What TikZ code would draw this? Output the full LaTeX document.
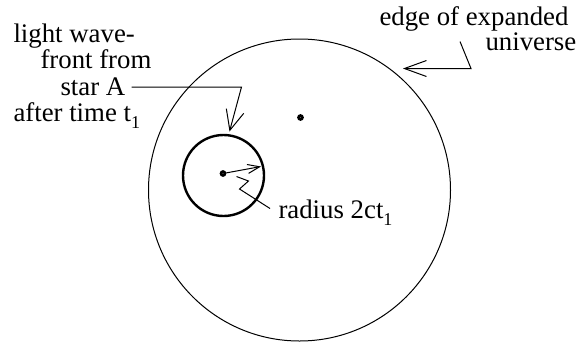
\documentclass[tikz,border=0pt]{standalone}
\usepackage{fontspec}
\setmainfont{Liberation Serif}
\usetikzlibrary{arrows.meta}
\newcommand{\tsub}[1]{\raisebox{-0.6ex}{\small #1}}
\tikzset{
  label text/.style={inner sep=0pt, anchor=base west, font=\rmfamily\fontsize{13.4}{16}\selectfont},
  open tip/.style args={#1/#2}{-{Straight Barb[length=#1, width=#2]}},
  star dot/.style={circle, draw, line width=1.3pt, minimum size=2pt, inner sep=0pt},
}
\begin{document}
\begin{tikzpicture}[x=0.5pt, y=-0.5pt, line width=0.5pt]
        \useasboundingbox (0,0) rectangle (578,343);

        % the universe and its centre
        \node (univ) [circle, draw, minimum size=151pt, inner sep=0pt] at (299.5,190) {};
        \node (centre) [star dot] at (300.5,117.5) {};

        % light from star A
        \node (front) [circle, draw, line width=1.2pt, minimum size=40.5pt, inner sep=0pt] at (223.5,175.5) {};
        \node (starA) [star dot] at (223,173.5) {};
        \coordinate (rtip) at (261,166.5);
        \draw [open tip=6pt/4.5pt] (starA) -- (rtip);

        % labels
        \node (l1) [label text] at (13,42.5) {light wave-};
        \node (l2) [label text] at (40,68.5) {front from};
        \node (l3) [label text] at (60,95) {star A};
        \node (l4) [label text] at (13,121.5) {after time t\tsub{1}};
        \node (rad) [label text] at (278,218.5) {radius 2ct\tsub{1}};
        \node (e1) [label text] at (379,25) {edge of expanded};
        \node (e2) [label text] at (485,50) {universe};

        % pointers
        \coordinate (wstart) at (131.5,87);
        \coordinate (wbend) at (241.5,87);
        \coordinate (wtip) at (229.5,131.5);
        \draw [open tip=10pt/9pt] (wstart) -- (wbend) -- (wtip);
        \coordinate (etop) at (460,41.5);
        \coordinate (ebend) at (471,68.5);
        \coordinate (etip) at (403,68.5);
        \draw [open tip=11pt/8pt] (etop) -- (ebend) -- (etip);
        \coordinate (zend) at (270,208.5);
        \draw (zend) -- (239.5,189) -- (248.5,181) -- (236.5,176.5);
\end{tikzpicture}
\end{document}
